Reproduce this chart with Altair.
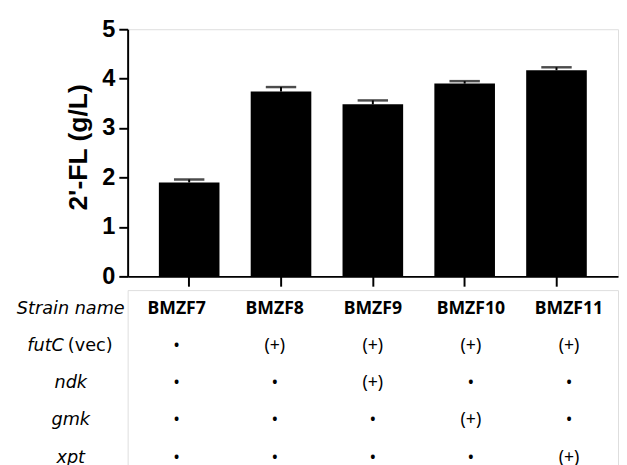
import altair as alt
import pandas as pd

strains = ["BMZF7", "BMZF8", "BMZF9", "BMZF10", "BMZF11"]
titer = [1.90, 3.74, 3.48, 3.90, 4.17]
sem = [0.06, 0.09, 0.08, 0.05, 0.06]

row_order = ["Strain name", "futC", "ndk", "gmk", "xpt"]
futC_row = ["•", "(+)", "(+)", "(+)", "(+)"]
ndk_row = ["•", "•", "(+)", "•", "•"]
gmk_row = ["•", "•", "•", "(+)", "•"]
xpt_row = ["•", "•", "•", "•", "(+)"]

bars_df = pd.DataFrame({"strain": strains, "titer": titer, "sem": sem})
bars_df["upper"] = bars_df["titer"] + bars_df["sem"]

cells = []
for r, vals in zip(row_order, [strains, futC_row, ndk_row, gmk_row, xpt_row]):
    for s, v in zip(strains, vals):
        cells.append({"row": r, "strain": s, "text": v,
                      "kind": "name" if r == "Strain name" else ("dot" if v == "•" else "plus")})
cells_df = pd.DataFrame(cells)
head_df = pd.DataFrame({"row": row_order})

W = 500
xscale = alt.Scale(domain=strains, paddingInner=0.34, paddingOuter=0.34)
FONT = "Liberation Sans"
TFONT = "Noto Sans"
HFONT = "DejaVu Sans"

base = alt.Chart(bars_df)
x_enc = alt.X("strain:N", scale=xscale, sort=strains, title=None,
              axis=alt.Axis(labels=False, ticks=True, tickSize=10, tickWidth=2,
                            tickColor="black", domainWidth=2, domainColor="black"))
bars = base.mark_bar(color="black").encode(
    x=x_enc,
    y=alt.Y("titer:Q", scale=alt.Scale(domain=[0, 5]),
            title="2'-FL (g/L)",
            axis=alt.Axis(values=[0, 1, 2, 3, 4, 5], format="d", tickSize=9, tickWidth=2,
                          tickColor="black", domainWidth=2, domainColor="black",
                          labelFont=FONT, labelFontSize=24, labelFontWeight="bold",
                          labelColor="black", labelPadding=4,
                          titleFont=FONT, titleFontSize=27, titleFontWeight="bold",
                          titleColor="black", titlePadding=10, titleY=120, grid=False)),
)
rule = base.mark_rule(color="black", strokeWidth=2).encode(
    x=alt.X("strain:N", scale=xscale, sort=strains),
    y="titer:Q", y2="upper:Q")
cap = base.mark_tick(color="black", size=31, thickness=2.5, orient="horizontal").encode(
    x=alt.X("strain:N", scale=xscale, sort=strains),
    y="upper:Q")
top = alt.layer(bars, rule, cap).properties(width=W, height=252)

tbase = alt.Chart(cells_df)
ty = alt.Y("row:N", sort=row_order, scale=alt.Scale(domain=row_order, paddingInner=0, paddingOuter=0),
           axis=None)
tx = alt.X("strain:N", scale=xscale, sort=strains, axis=None)
names = tbase.transform_filter("datum.kind == 'name'").mark_text(
    font=TFONT, fontSize=18, fontWeight="bold", color="black").encode(x=tx, y=ty, text="text:N")
plus = tbase.transform_filter("datum.kind == 'plus'").mark_text(
    font=TFONT, fontSize=18, color="black").encode(x=tx, y=ty, text="text:N")
dots = tbase.transform_filter("datum.kind == 'dot'").mark_text(
    font=TFONT, fontSize=14, fontWeight="bold", color="black").encode(x=tx, y=ty, text="text:N")

hbase = alt.Chart(head_df)
heads = hbase.transform_filter("datum.row != 'futC'").mark_text(
    font=HFONT, fontSize=18, fontStyle="italic", color="black", align="center").encode(
    x=alt.value(-58), y=ty, text="row:N")
futc = hbase.transform_filter("datum.row == 'futC'").mark_text(
    font=HFONT, fontSize=18, fontStyle="italic", color="black", align="right").encode(
    x=alt.value(-65), y=ty, text="row:N")
vec = hbase.transform_filter("datum.row == 'futC'").transform_calculate(lab="'(vec)'").mark_text(
    font=HFONT, fontSize=18, color="black", align="left").encode(
    x=alt.value(-61), y=ty, text="lab:N")

table = alt.layer(names, plus, dots, heads, futc, vec).properties(width=W, height=5 * 38)

chart = alt.vconcat(top, table, spacing=0).properties(
    padding={"left": 8, "top": 4, "right": 0, "bottom": 0}
).configure_view(stroke=None).configure(background="white")

chart.save("out.html", embed_options={"renderer": "svg", "actions": False})
